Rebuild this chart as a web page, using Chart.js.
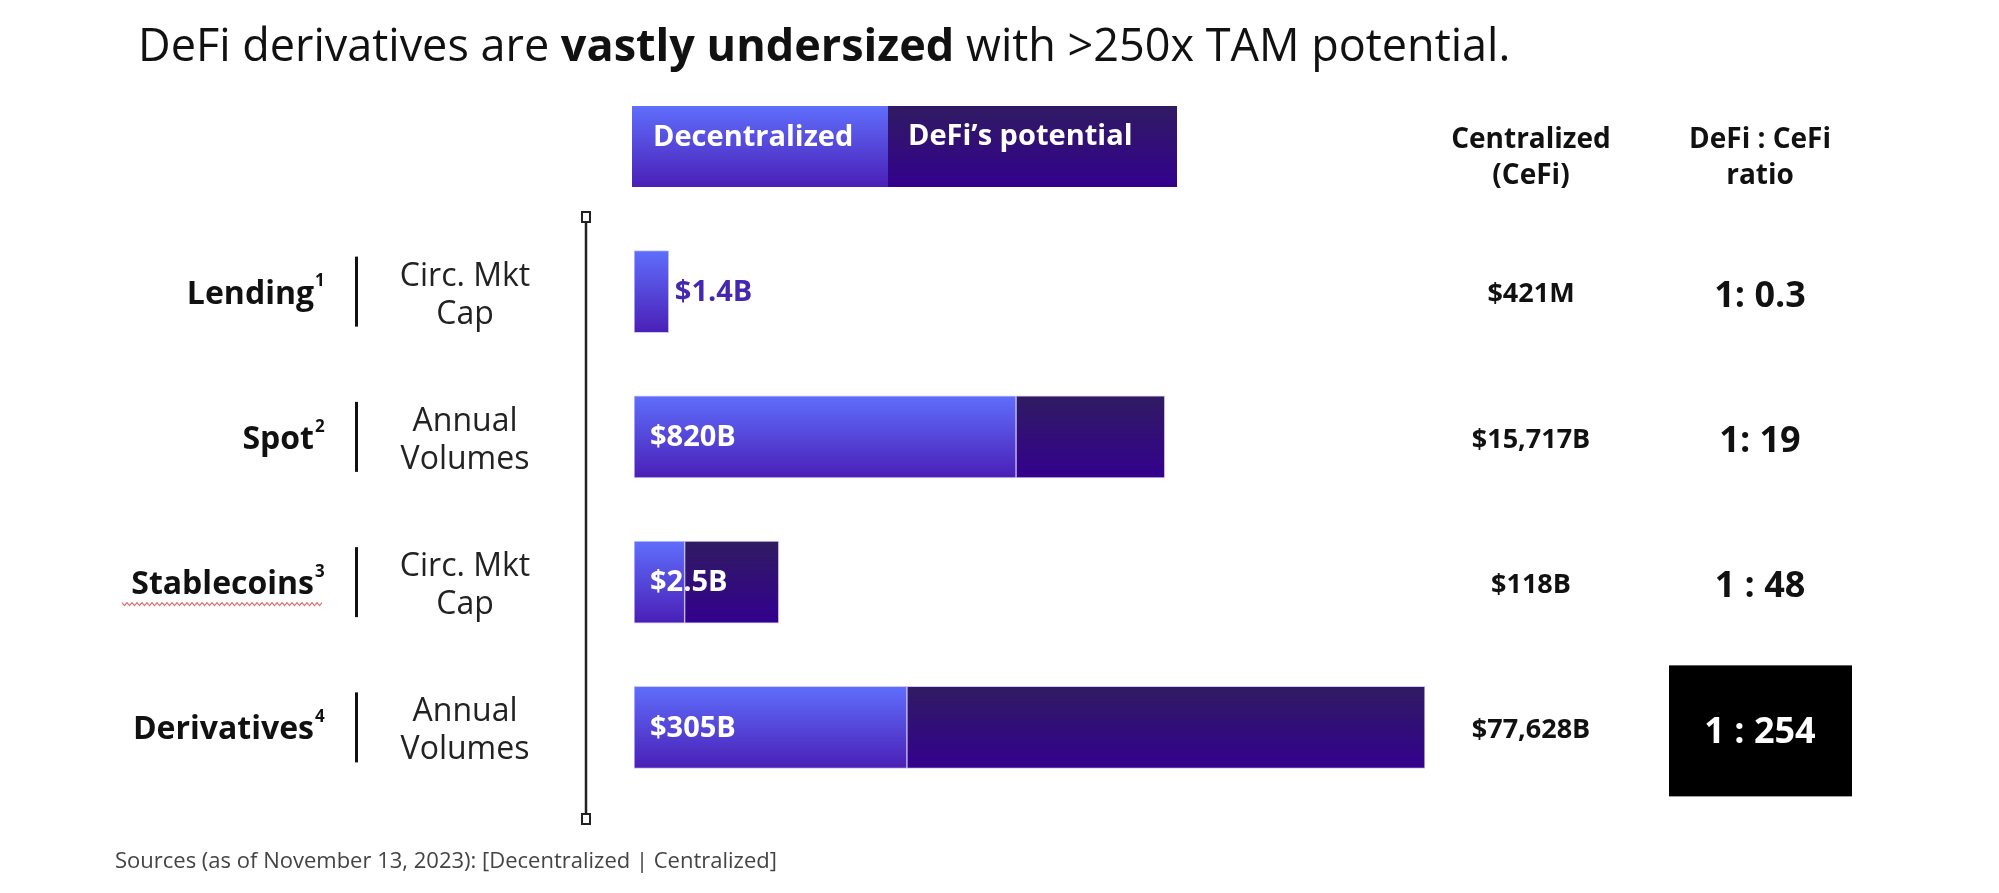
<!DOCTYPE html>
<html>
<head>
<meta charset="utf-8">
<script src="https://cdn.jsdelivr.net/npm/chart.js@4.4.0/dist/chart.umd.min.js"></script>
<style>
  html, body { margin: 0; padding: 0; background: #fff; }
  #chart { display: block; }
</style>
</head>
<body>
<canvas id="chart" width="1999" height="893"></canvas>
<script>
// rows, top to bottom
const categories = ["Lending", "Spot", "Stablecoins", "Derivatives"];
const footnotes  = ["1", "2", "3", "4"];
const metrics    = [["Circ. Mkt", "Cap"], ["Annual", "Volumes"], ["Circ. Mkt", "Cap"], ["Annual", "Volumes"]];

// bar lengths as drawn on the slide (illustrative scale, derivatives potential = 100)
const decentralizedLen = [4.4, 48.3, 6.4, 34.5];
const potentialEnd     = [null, 67.1, 18.3, 100];

// printed values
const decentralizedVal = ["$1.4B", "$820B", "$2.5B", "$305B"];
const centralizedVal   = ["$421M", "$15,717B", "$118B", "$77,628B"];
const ratioVal         = ["1: 0.3", "1: 19", "1 : 48", "1 : 254"];
const highlightRow     = 3;

const seriesNames = ["Decentralized", "DeFi\u2019s potential"];
const titleParts  = [["DeFi derivatives are ", false], ["vastly undersized", true], [" with >250x TAM potential.", false]];
const sourceNote  = "Sources (as of November 13, 2023): [Decentralized | Centralized]";
const colHeaders  = [["Centralized", "(CeFi)"], ["DeFi : CeFi", "ratio"]];

const FONT  = '"Open Sans", sans-serif';
const BAR_H = 82;
const DEC_COLORS = ["#5f6efc", "#4a1fb6"];   // top, bottom
const POT_COLORS = ["#301b62", "#33018e"];

function vGrad(ctx, y0, y1, [top, bottom]) {
  const g = ctx.createLinearGradient(0, y0, 0, y1);
  g.addColorStop(0, top);
  g.addColorStop(1, bottom);
  return g;
}

/* gradient per bar, top to bottom of that bar */
function barFill(colors) {
  return (c) => {
    const y = c.chart.scales.y;
    if (!y || c.type !== "data") return colors[1];
    const mid = y.getPixelForValue(c.dataIndex);
    if (!Number.isFinite(mid)) return colors[1];
    return vGrad(c.chart.ctx, mid - BAR_H / 2, mid + BAR_H / 2, colors);
  };
}

function font(size, bold) {
  return (bold ? "bold " : "") + size + "px " + FONT;
}

function text(ctx, str, x, y, size, bold, color, align = "left") {
  ctx.font = font(size, bold);
  ctx.fillStyle = color;
  ctx.textAlign = align;
  ctx.textBaseline = "middle";
  ctx.fillText(str, x, y);
  return ctx.measureText(str).width;
}

/* everything around the bars: titles, row labels, columns, legend */
const slideDecor = {
  id: "slideDecor",
  afterDraw(chart) {
    const ctx = chart.ctx;
    const yScale = chart.scales.y;
    ctx.save();

    // title
    let tx = 138;
    titleParts.forEach(([s, b]) => { tx += text(ctx, s, tx, 48, 45, b, "#111"); });

    // legend box
    const legY = 106, legH = 81;
    ctx.fillStyle = vGrad(ctx, legY, legY + legH, DEC_COLORS);
    ctx.fillRect(632, legY, 256, legH);
    ctx.fillStyle = vGrad(ctx, legY, legY + legH, POT_COLORS);
    ctx.fillRect(888, legY, 289, legH);
    text(ctx, seriesNames[0], 653, 138, 29, true, "#fff");
    text(ctx, seriesNames[1], 908, 137, 29, true, "#fff");

    // column headers
    colHeaders.forEach((lines, k) => {
      const cx = k === 0 ? 1531 : 1760;
      text(ctx, lines[0], cx, 140, 28, true, "#111", "center");
      text(ctx, lines[1], cx, 176, 28, true, "#111", "center");
    });

    // vertical axis with square caps
    ctx.strokeStyle = "#222";
    ctx.lineWidth = 2.5;
    ctx.beginPath();
    ctx.moveTo(586, 222);
    ctx.lineTo(586, 814);
    ctx.stroke();
    ctx.lineWidth = 2;
    ctx.strokeRect(582, 212, 8, 10);
    ctx.strokeRect(582, 814, 8, 10);

    const decMeta = chart.getDatasetMeta(1);

    categories.forEach((cat, i) => {
      const cy = yScale.getPixelForValue(i);

      // row label + footnote
      text(ctx, cat, 314, cy + 3, 32, true, "#111", "right");
      text(ctx, footnotes[i], 315, cy - 10, 17, true, "#111");
      if (cat === "Stablecoins") {
        // spell-check squiggle from the source slide
        ctx.strokeStyle = "#e07070";
        ctx.lineWidth = 1.2;
        ctx.beginPath();
        for (let x = 122; x <= 323; x += 2.5) {
          const yy = cy + 22 + ((Math.round((x - 122) / 2.5) % 2) ? 1.5 : -1.5);
          if (x === 122) ctx.moveTo(x, yy); else ctx.lineTo(x, yy);
        }
        ctx.stroke();
      }

      // separator
      ctx.fillStyle = "#111";
      ctx.fillRect(355, cy - 35, 3, 70);

      // metric
      text(ctx, metrics[i][0], 465, cy - 15, 32, false, "#222", "center");
      text(ctx, metrics[i][1], 465, cy + 23, 32, false, "#222", "center");

      // decentralized value label
      const bar = decMeta.data[i];
      const { x, base } = bar.getProps(["x", "base"], true);
      if (x - base < 40) {
        text(ctx, decentralizedVal[i], x + 6, cy + 1, 29, true, "#4527b0");
      } else {
        text(ctx, decentralizedVal[i], base + 16, cy + 1, 29, true, "#fff");
      }

      // centralized value
      text(ctx, centralizedVal[i], 1531, cy + 3, 27, true, "#111", "center");

      // ratio
      if (i === highlightRow) {
        ctx.fillStyle = "#000";
        ctx.fillRect(1669, cy - 62, 183, 131);
        text(ctx, ratioVal[i], 1760, cy + 5, 36, true, "#fff", "center");
      } else {
        text(ctx, ratioVal[i], 1760, cy + 5, 36, true, "#111", "center");
      }
    });

    // footnote line
    text(ctx, sourceNote, 115, 862, 22, false, "#444");
    ctx.restore();
  }
};

new Chart(document.getElementById("chart"), {
  type: "bar",
  data: {
    labels: categories,
    datasets: [
      {
        label: seriesNames[1],
        data: potentialEnd.map((e, i) => (e === null ? null : [decentralizedLen[i], e])),
        backgroundColor: barFill(POT_COLORS),
        borderColor: "rgba(120,100,210,0.35)",
        borderWidth: 1,
        borderSkipped: false,
        grouped: false,
        barThickness: BAR_H,
      },
      {
        label: seriesNames[0],
        data: decentralizedLen.map((v) => [0, v]),
        backgroundColor: barFill(DEC_COLORS),
        borderColor: "rgba(110,95,225,0.35)",
        borderWidth: 1,
        borderSkipped: false,
        grouped: false,
        barThickness: BAR_H,
      },
    ],
  },
  options: {
    indexAxis: "y",
    responsive: false,
    animation: false,
    devicePixelRatio: 1,
    layout: { padding: { left: 634, right: 574, top: 219, bottom: 93 } },
    plugins: { legend: { display: false }, tooltip: { enabled: false } },
    scales: {
      x: { display: false, min: 0, max: 100 },
      y: { display: false },
    },
  },
  plugins: [slideDecor],
});
</script>
</body>
</html>
